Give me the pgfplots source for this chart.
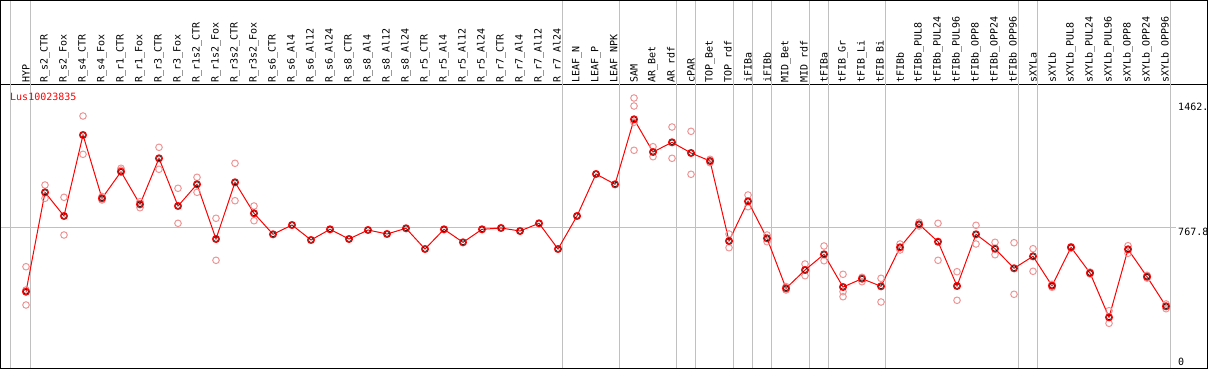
\documentclass[border=0pt]{standalone}
\usepackage{pgfplots}
\usepackage{pgfplotstable}
\pgfplotsset{compat=1.18}
\usepackage{fontspec}
\newfontfamily\monofont{DejaVu Sans Mono}
\definecolor{pale}{RGB}{238,150,150}
\definecolor{gridgray}{RGB}{192,192,192}

\pgfplotstableread{
x y
0 418.4
1 963.5
2 833.6
3 1277.8
4 930.6
5 1076.5
6 897.7
7 1150
8 888.4
9 1007.4
10 707.4
11 1018.4
12 848.4
13 733.2
14 784.2
15 702.0
16 760.6
17 707.4
18 756.8
19 734.9
20 766.1
21 652.6
22 760.6
23 689.3
24 760.6
25 767.8
26 751.3
27 793.5
28 652.6
29 833.6
30 1063.9
31 1007.4
32 1363.9
33 1184.5
34 1237.7
35 1179.1
36 1135.2
37 696.5
38 914.2
39 711.3
40 437.1
41 537.4
42 623.5
43 444.2
44 489.7
45 448
46 661.9
47 788.1
48 692.6
49 449.7
50 733.2
51 654.2
52 546.8
53 612.6
54 451.3
55 661.9
56 521
57 278
58 651
59 500.7
60 338.4
}\meantable

\pgfplotstableread{
x y
0 555.5
0 427.8
0 345.5
1 1003.6
1 930.6
2 936.1
2 729.4
3 1382
3 1171.9
4 921.3
4 940.5
5 1095.2
5 1085.8
6 912
6 879.1
7 1210.3
7 1089.7
8 985.5
8 793.5
9 1045.8
9 963.5
10 821
10 590.6
11 1122.6
11 917.5
12 888.4
12 807.8
32 1480.7
32 1436.8
32 1347.4
32 1193.9
33 1213.6
33 1158.8
34 1321.6
34 1150
35 1298
35 1062.3
36 1144.5
36 1125.9
37 734.9
37 659.7
38 948.7
38 884.6
39 729.4
39 692.6
40 427.8
40 446.4
41 570.3
41 506.2
42 669
42 588.4
43 513.9
43 418.4
43 391
44 497.4
44 473.3
45 491.9
45 361.9
46 680
46 647.1
47 799
47 778.7
48 793.5
48 590.6
49 528.1
49 371.3
50 782.6
50 680
51 689.3
51 621.3
52 687.1
52 404.2
53 654.2
53 530.3
54 459
54 442.6
55 665.2
55 658
56 526
56 516
57 314.2
57 245.1
58 670.7
58 629
59 508.4
59 493
60 325.2
60 351
}\paletable

\begin{document}
\begin{tikzpicture}
\begin{axis}[
  at={(1pt,2pt)}, anchor=south west,
  scale only axis, width=1206pt, height=283pt,
  xmin=-1.3158, xmax=62.158, ymin=0, ymax=1552,
  axis line style={black, line width=1pt},
  ytick=\empty,
  xtick={0,...,60},
  xticklabels={HYP,R\_s2\_CTR,R\_s2\_Fox,R\_s4\_CTR,R\_s4\_Fox,R\_r1\_CTR,R\_r1\_Fox,R\_r3\_CTR,R\_r3\_Fox,R\_r1s2\_CTR,R\_r1s2\_Fox,R\_r3s2\_CTR,R\_r3s2\_Fox,R\_s6\_CTR,R\_s6\_Al4,R\_s6\_Al12,R\_s6\_Al24,R\_s8\_CTR,R\_s8\_Al4,R\_s8\_Al12,R\_s8\_Al24,R\_r5\_CTR,R\_r5\_Al4,R\_r5\_Al12,R\_r5\_Al24,R\_r7\_CTR,R\_r7\_Al4,R\_r7\_Al12,R\_r7\_Al24,LEAF\_N,LEAF\_P,LEAF\_NPK,SAM,AR\_Bet,AR\_rdf,cPAR,TOP\_Bet,TOP\_rdf,iFIBa,iFIBb,MID\_Bet,MID\_rdf,tFIBa,tFIB\_Gr,tFIB\_Li,tFIB\_Bi,tFIBb,tFIBb\_PUL8,tFIBb\_PUL24,tFIBb\_PUL96,tFIBb\_OPP8,tFIBb\_OPP24,tFIBb\_OPP96,sXYLa,sXYLb,sXYLb\_PUL8,sXYLb\_PUL24,sXYLb\_PUL96,sXYLb\_OPP8,sXYLb\_OPP24,sXYLb\_OPP96},
  xticklabel pos=upper,
  major tick length=0pt,
  xtick style={draw=none},
  xticklabel style={rotate=90, anchor=west, font=\monofont\fontsize{10}{12}\selectfont, inner sep=2pt, text=black},
  clip=false,
]
% vertical separators
\pgfplotsinvokeforeach{-0.842,0.2105,28.26,31.21,34.26,35.26,37.26,38.26,39.26,41.26,42.26,45.26,52.26,53.21,60.21}{
  \draw[gridgray, line width=1pt] (axis cs:#1,0) -- (axis cs:#1,2015.5);
}
\draw[gridgray, line width=1pt] (axis cs:-1.3158,767.8) -- (axis cs:60.53,767.8);
% outer frame (header part)
\draw[black, line width=1pt] (axis cs:-1.3158,1552) -- (axis cs:-1.3158,2015.5) -- (axis cs:62.158,2015.5) -- (axis cs:62.158,1552);

\addplot[only marks, mark=o, mark size=3.3pt, pale, line width=1pt] table {\paletable};
\addplot[red, line width=1pt, mark=o, mark size=3.4pt, mark options={line width=1.2pt}] table {\meantable};
\addplot[only marks, black, mark=o, mark size=2.4pt, mark options={line width=0.5pt}] table {\meantable};

\node[anchor=west, inner sep=0pt, text=red, font=\monofont\fontsize{10}{12}\selectfont] at (axis cs:-0.842,1486.2) {Lus10023835};
\node[anchor=west, inner sep=0pt, font=\monofont\fontsize{10}{12}\selectfont] at (axis cs:60.632,1431.4) {1462.};
\node[anchor=west, inner sep=0pt, font=\monofont\fontsize{10}{12}\selectfont] at (axis cs:60.632,745.9) {767.8};
\node[anchor=west, inner sep=0pt, font=\monofont\fontsize{10}{12}\selectfont] at (axis cs:60.632,32.9) {0};
\end{axis}
\pgfresetboundingbox
\path (0,0) rectangle (1209pt,370pt);
\end{tikzpicture}
\end{document}
